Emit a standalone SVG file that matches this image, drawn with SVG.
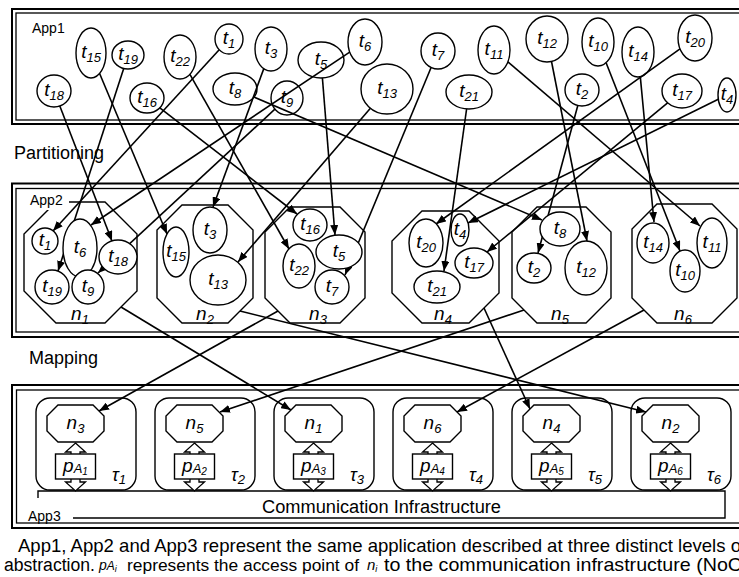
<svg xmlns="http://www.w3.org/2000/svg" width="739" height="577" viewBox="0 0 739 577">
  <defs>
    <style>
      .frame-o{fill:none;stroke:#000;stroke-width:2}
      .frame-i{fill:none;stroke:#000;stroke-width:1.3}
      .task ellipse{fill:#fff;stroke:#000;stroke-width:1.4}
      .oct{fill:none;stroke:#000;stroke-width:1.4}
      .oct-w{fill:#fff;stroke:#000;stroke-width:1.4}
      .tile{fill:#fff;stroke:#000;stroke-width:1.4}
      .conn{fill:none;stroke:#000;stroke-width:1.6;marker-end:url(#ah)}
      .lbl{font-family:"Liberation Sans",Arial,sans-serif;font-style:italic;font-size:19px;text-anchor:middle;fill:#000}
      .sub{font-size:13px}
      .tau{font-family:"Liberation Sans",Arial,sans-serif;font-style:italic;font-size:18px;fill:#000}
      .plain{font-family:"Liberation Sans",Arial,sans-serif;fill:#000}
      .app{font-family:"Liberation Sans",Arial,sans-serif;font-size:14px;fill:#000}
      .stage{font-family:"Liberation Sans",Arial,sans-serif;font-size:18px;fill:#000}
      .cap{font-family:"Liberation Sans",Arial,sans-serif;font-size:18.5px;fill:#000}
    </style>
    <marker id="ah" markerUnits="userSpaceOnUse" markerWidth="10" markerHeight="8" refX="10" refY="4" orient="auto">
      <path d="M0,0 L10,4 L0,8 z" fill="#000"/>
    </marker>
    <!-- block double arrow linking a tile octagon to the network bar -->
    <polygon id="dbl" points="0,443 10,452 4.5,452 4.5,482 10,482 0,491 -10,482 -4.5,482 -4.5,452 -10,452" fill="#fff" stroke="#000" stroke-width="1.3"/>
  </defs>

  <rect width="739" height="577" fill="#fff"/>

  <!-- App1 / App2 / App3 frames -->
  <g id="frames">
    <rect class="frame-o" x="12" y="9" width="740" height="115"/>
    <rect class="frame-i" x="16" y="13" width="735" height="107"/>
    <rect class="frame-o" x="12" y="183.5" width="740" height="153.5"/>
    <rect class="frame-i" x="16" y="188.5" width="735" height="143.5"/>
    <rect class="frame-o" x="12" y="385" width="740" height="143"/>
    <rect class="frame-i" x="16.5" y="390" width="735" height="133"/>
  </g>

  <g id="labels">
    <text class="app" x="32" y="33">App1</text>
    <text class="stage" x="14" y="159">Partitioning</text>
    <text class="stage" x="29" y="364">Mapping</text>
  </g>

  <!-- App1: task graph -->
  <g id="app1">
    <g id="a1-t1" class="task"><ellipse cx="229" cy="39" rx="14" ry="15"/><text class="lbl" x="229" y="44">t<tspan class="sub" dy="4">1</tspan></text></g>
    <g id="a1-t2" class="task"><ellipse cx="582" cy="90" rx="17" ry="16"/><text class="lbl" x="582" y="95">t<tspan class="sub" dy="4">2</tspan></text></g>
    <g id="a1-t3" class="task"><ellipse cx="271" cy="49" rx="16" ry="22"/><text class="lbl" x="271" y="54">t<tspan class="sub" dy="4">3</tspan></text></g>
    <g id="a1-t4" class="task"><ellipse cx="727" cy="95" rx="9" ry="17"/><text class="lbl" x="727" y="100">t<tspan class="sub" dy="4">4</tspan></text></g>
    <g id="a1-t5" class="task"><ellipse cx="321" cy="60" rx="23" ry="18"/><text class="lbl" x="321" y="65">t<tspan class="sub" dy="4">5</tspan></text></g>
    <g id="a1-t6" class="task"><ellipse cx="365" cy="42" rx="17" ry="23"/><text class="lbl" x="365" y="47">t<tspan class="sub" dy="4">6</tspan></text></g>
    <g id="a1-t7" class="task"><ellipse cx="438" cy="51" rx="17" ry="18"/><text class="lbl" x="438" y="56">t<tspan class="sub" dy="4">7</tspan></text></g>
    <g id="a1-t8" class="task"><ellipse cx="235" cy="89" rx="22" ry="16"/><text class="lbl" x="235" y="94">t<tspan class="sub" dy="4">8</tspan></text></g>
    <g id="a1-t9" class="task"><ellipse cx="287" cy="98" rx="16" ry="17"/><text class="lbl" x="287" y="103">t<tspan class="sub" dy="4">9</tspan></text></g>
    <g id="a1-t10" class="task"><ellipse cx="598" cy="42" rx="16" ry="24"/><text class="lbl" x="598" y="47">t<tspan class="sub" dy="4">10</tspan></text></g>
    <g id="a1-t11" class="task"><ellipse cx="494" cy="50" rx="16" ry="24"/><text class="lbl" x="494" y="55">t<tspan class="sub" dy="4">11</tspan></text></g>
    <g id="a1-t12" class="task"><ellipse cx="547" cy="39" rx="21" ry="23"/><text class="lbl" x="547" y="44">t<tspan class="sub" dy="4">12</tspan></text></g>
    <g id="a1-t13" class="task"><ellipse cx="387" cy="89" rx="26" ry="25"/><text class="lbl" x="387" y="94">t<tspan class="sub" dy="4">13</tspan></text></g>
    <g id="a1-t14" class="task"><ellipse cx="638" cy="52" rx="16" ry="25"/><text class="lbl" x="638" y="57">t<tspan class="sub" dy="4">14</tspan></text></g>
    <g id="a1-t15" class="task"><ellipse cx="91" cy="53" rx="15" ry="25"/><text class="lbl" x="91" y="58">t<tspan class="sub" dy="4">15</tspan></text></g>
    <g id="a1-t16" class="task"><ellipse cx="147" cy="98" rx="17" ry="15"/><text class="lbl" x="147" y="103">t<tspan class="sub" dy="4">16</tspan></text></g>
    <g id="a1-t17" class="task"><ellipse cx="682" cy="91" rx="20" ry="17"/><text class="lbl" x="682" y="96">t<tspan class="sub" dy="4">17</tspan></text></g>
    <g id="a1-t18" class="task"><ellipse cx="54" cy="91" rx="17" ry="16"/><text class="lbl" x="54" y="96">t<tspan class="sub" dy="4">18</tspan></text></g>
    <g id="a1-t19" class="task"><ellipse cx="128" cy="55" rx="16" ry="14"/><text class="lbl" x="128" y="60">t<tspan class="sub" dy="4">19</tspan></text></g>
    <g id="a1-t20" class="task"><ellipse cx="695" cy="38" rx="17" ry="23"/><text class="lbl" x="695" y="43">t<tspan class="sub" dy="4">20</tspan></text></g>
    <g id="a1-t21" class="task"><ellipse cx="469" cy="92" rx="23" ry="17"/><text class="lbl" x="469" y="97">t<tspan class="sub" dy="4">21</tspan></text></g>
    <g id="a1-t22" class="task"><ellipse cx="180" cy="57" rx="16" ry="22"/><text class="lbl" x="180" y="62">t<tspan class="sub" dy="4">22</tspan></text></g>
  </g>

  <!-- App2: clusters (octagon outlines) -->
  <g id="clusters">
    <g id="n1"><polygon class="oct" points="56,202 105,202 137,234 137,291 105,323 56,323 24,291 24,234"/><text class="lbl" x="80" y="320">n<tspan class="sub" dy="4">1</tspan></text></g>
    <g id="n2"><polygon class="oct" points="182,205 228,205 253,230 253,298 228,323 182,323 157,298 157,230"/><text class="lbl" x="205" y="320">n<tspan class="sub" dy="4">2</tspan></text></g>
    <g id="n3"><polygon class="oct" points="290,207 340,207 365,232 365,298 340,323 290,323 265,298 265,232"/><text class="lbl" x="318" y="320">n<tspan class="sub" dy="4">3</tspan></text></g>
    <g id="n4"><polygon class="oct" points="422,211 469,211 499,241 499,293 469,323 422,323 392,293 392,241"/><text class="lbl" x="443" y="320">n<tspan class="sub" dy="4">4</tspan></text></g>
    <g id="n5"><polygon class="oct" points="537,207 586,207 611,232 611,298 586,323 537,323 512,298 512,232"/><text class="lbl" x="560" y="320">n<tspan class="sub" dy="4">5</tspan></text></g>
    <g id="n6"><polygon class="oct" points="657,204 712,204 737,229 737,298 712,323 657,323 632,298 632,229"/><text class="lbl" x="683" y="320">n<tspan class="sub" dy="4">6</tspan></text></g>
  </g>

  <!-- partitioning: each task goes to its cluster -->
  <g id="partitioning">
    <path class="conn" d="M219.2,49.7 L53,231"/>
    <path class="conn" d="M577.8,105.5 L538,253"/>
    <path class="conn" d="M263.8,68.6 L213,207"/>
    <path class="conn" d="M718.3,99.3 L468,223"/>
    <path class="conn" d="M322.4,78 L335,235"/>
    <path class="conn" d="M349.7,52.1 L91,225"/>
    <path class="conn" d="M431.1,67.5 L345,275"/>
    <path class="conn" d="M253.9,97.1 L542,220"/>
    <path class="conn" d="M274.9,109.2 L98,273"/>
    <path class="conn" d="M606.1,62.7 L680,251"/>
    <path class="conn" d="M507.9,61.9 L700,226"/>
    <path class="conn" d="M551.5,61.5 L587,241"/>
    <path class="conn" d="M370.4,108.3 L238,262"/>
    <path class="conn" d="M640.3,76.7 L654,222"/>
    <path class="conn" d="M99.6,73.5 L167,234"/>
    <path class="conn" d="M159.8,107.9 L297,214"/>
    <path class="conn" d="M667.6,102.9 L487,252"/>
    <path class="conn" d="M59.8,106 L112,241"/>
    <path class="conn" d="M123.7,68.5 L58,271"/>
    <path class="conn" d="M680,48.8 L436,224"/>
    <path class="conn" d="M466.6,109 L444,271"/>
    <path class="conn" d="M189.9,74.3 L289,249"/>
  </g>

  <!-- App2: tasks inside clusters -->
  <g id="app2">
    <g id="a2-t1" class="task"><ellipse cx="45" cy="241" rx="13" ry="13"/><text class="lbl" x="45" y="246">t<tspan class="sub" dy="4">1</tspan></text></g>
    <g id="a2-t6" class="task"><ellipse cx="80" cy="248" rx="17" ry="29"/><text class="lbl" x="80" y="253">t<tspan class="sub" dy="4">6</tspan></text></g>
    <g id="a2-t18" class="task"><ellipse cx="118" cy="257" rx="19" ry="17"/><text class="lbl" x="118" y="262">t<tspan class="sub" dy="4">18</tspan></text></g>
    <g id="a2-t19" class="task"><ellipse cx="52" cy="287" rx="17" ry="17"/><text class="lbl" x="52" y="292">t<tspan class="sub" dy="4">19</tspan></text></g>
    <g id="a2-t9" class="task"><ellipse cx="88" cy="287" rx="16" ry="17"/><text class="lbl" x="88" y="292">t<tspan class="sub" dy="4">9</tspan></text></g>
    <g id="a2-t15" class="task"><ellipse cx="176" cy="252" rx="13" ry="25"/><text class="lbl" x="176" y="257">t<tspan class="sub" dy="4">15</tspan></text></g>
    <g id="a2-t3" class="task"><ellipse cx="210" cy="230" rx="17" ry="23"/><text class="lbl" x="210" y="235">t<tspan class="sub" dy="4">3</tspan></text></g>
    <g id="a2-t13" class="task"><ellipse cx="218" cy="280" rx="28" ry="25"/><text class="lbl" x="218" y="285">t<tspan class="sub" dy="4">13</tspan></text></g>
    <g id="a2-t16" class="task"><ellipse cx="310" cy="225" rx="17" ry="16"/><text class="lbl" x="310" y="230">t<tspan class="sub" dy="4">16</tspan></text></g>
    <g id="a2-t22" class="task"><ellipse cx="299" cy="266" rx="16" ry="22"/><text class="lbl" x="299" y="271">t<tspan class="sub" dy="4">22</tspan></text></g>
    <g id="a2-t5" class="task"><ellipse cx="339" cy="252" rx="23" ry="17"/><text class="lbl" x="339" y="257">t<tspan class="sub" dy="4">5</tspan></text></g>
    <g id="a2-t7" class="task"><ellipse cx="332" cy="287" rx="17" ry="17"/><text class="lbl" x="332" y="292">t<tspan class="sub" dy="4">7</tspan></text></g>
    <g id="a2-t20" class="task"><ellipse cx="426" cy="243" rx="17" ry="24"/><text class="lbl" x="426" y="248">t<tspan class="sub" dy="4">20</tspan></text></g>
    <g id="a2-t4" class="task"><ellipse cx="460" cy="230" rx="9" ry="16"/><text class="lbl" x="460" y="235">t<tspan class="sub" dy="4">4</tspan></text></g>
    <g id="a2-t17" class="task"><ellipse cx="474" cy="263" rx="19" ry="15"/><text class="lbl" x="474" y="268">t<tspan class="sub" dy="4">17</tspan></text></g>
    <g id="a2-t21" class="task"><ellipse cx="437" cy="287" rx="23" ry="16"/><text class="lbl" x="437" y="292">t<tspan class="sub" dy="4">21</tspan></text></g>
    <g id="a2-t8" class="task"><ellipse cx="560" cy="229" rx="20" ry="17"/><text class="lbl" x="560" y="234">t<tspan class="sub" dy="4">8</tspan></text></g>
    <g id="a2-t2" class="task"><ellipse cx="534" cy="268" rx="17" ry="15"/><text class="lbl" x="534" y="273">t<tspan class="sub" dy="4">2</tspan></text></g>
    <g id="a2-t12" class="task"><ellipse cx="586" cy="268" rx="21" ry="27"/><text class="lbl" x="586" y="273">t<tspan class="sub" dy="4">12</tspan></text></g>
    <g id="a2-t14" class="task"><ellipse cx="653" cy="243" rx="16" ry="20"/><text class="lbl" x="653" y="248">t<tspan class="sub" dy="4">14</tspan></text></g>
    <g id="a2-t10" class="task"><ellipse cx="685" cy="271" rx="15" ry="21"/><text class="lbl" x="685" y="276">t<tspan class="sub" dy="4">10</tspan></text></g>
    <g id="a2-t11" class="task"><ellipse cx="712" cy="243" rx="15" ry="25"/><text class="lbl" x="712" y="248">t<tspan class="sub" dy="4">11</tspan></text></g>
  </g>

  <g id="app2-label">
    <rect x="27" y="192" width="42" height="18" fill="#fff"/>
    <text class="app" x="30" y="205">App2</text>
  </g>

  <!-- App3: tiles on the NoC -->
  <g id="noc">
    <path d="M38,498 L38,491 L725,491 L725,518 L73,518" fill="#fff" stroke="#000" stroke-width="1.4"/>
    <text class="plain" x="381.5" y="513" font-size="18" text-anchor="middle" textLength="239" lengthAdjust="spacingAndGlyphs">Communication Infrastructure</text>
    <text class="app" x="28" y="521">App3</text>
  </g>

  <g id="tau1">
    <rect class="tile" x="36" y="398" width="100" height="92" rx="14"/>
    <use href="#dbl" x="75.5"/>
    <polygon class="oct-w" points="58,405 93,405 104,416 104,431 93,442 58,442 47,431 47,416"/>
    <text class="lbl" x="75.5" y="429">n<tspan class="sub" dy="4">3</tspan></text>
    <rect class="tile" x="55.5" y="454" width="40" height="25"/>
    <text class="lbl" x="75.5" y="472">p<tspan font-size="13" dy="1">A</tspan><tspan font-size="10" dy="2">1</tspan></text>
    <text class="tau" x="112" y="481">τ<tspan class="sub" dy="3">1</tspan></text>
  </g>
  <g id="tau2">
    <rect class="tile" x="155" y="398" width="100" height="92" rx="14"/>
    <use href="#dbl" x="194.5"/>
    <polygon class="oct-w" points="177,405 212,405 223,416 223,431 212,442 177,442 166,431 166,416"/>
    <text class="lbl" x="194.5" y="429">n<tspan class="sub" dy="4">5</tspan></text>
    <rect class="tile" x="174.5" y="454" width="40" height="25"/>
    <text class="lbl" x="194.5" y="472">p<tspan font-size="13" dy="1">A</tspan><tspan font-size="10" dy="2">2</tspan></text>
    <text class="tau" x="231" y="481">τ<tspan class="sub" dy="3">2</tspan></text>
  </g>
  <g id="tau3">
    <rect class="tile" x="274" y="398" width="100" height="92" rx="14"/>
    <use href="#dbl" x="313.5"/>
    <polygon class="oct-w" points="296,405 331,405 342,416 342,431 331,442 296,442 285,431 285,416"/>
    <text class="lbl" x="313.5" y="429">n<tspan class="sub" dy="4">1</tspan></text>
    <rect class="tile" x="293.5" y="454" width="40" height="25"/>
    <text class="lbl" x="313.5" y="472">p<tspan font-size="13" dy="1">A</tspan><tspan font-size="10" dy="2">3</tspan></text>
    <text class="tau" x="350" y="481">τ<tspan class="sub" dy="3">3</tspan></text>
  </g>
  <g id="tau4">
    <rect class="tile" x="393" y="398" width="100" height="92" rx="14"/>
    <use href="#dbl" x="432.5"/>
    <polygon class="oct-w" points="415,405 450,405 461,416 461,431 450,442 415,442 404,431 404,416"/>
    <text class="lbl" x="432.5" y="429">n<tspan class="sub" dy="4">6</tspan></text>
    <rect class="tile" x="412.5" y="454" width="40" height="25"/>
    <text class="lbl" x="432.5" y="472">p<tspan font-size="13" dy="1">A</tspan><tspan font-size="10" dy="2">4</tspan></text>
    <text class="tau" x="469" y="481">τ<tspan class="sub" dy="3">4</tspan></text>
  </g>
  <g id="tau5">
    <rect class="tile" x="512" y="398" width="100" height="92" rx="14"/>
    <use href="#dbl" x="551.5"/>
    <polygon class="oct-w" points="534,405 569,405 580,416 580,431 569,442 534,442 523,431 523,416"/>
    <text class="lbl" x="551.5" y="429">n<tspan class="sub" dy="4">4</tspan></text>
    <rect class="tile" x="531.5" y="454" width="40" height="25"/>
    <text class="lbl" x="551.5" y="472">p<tspan font-size="13" dy="1">A</tspan><tspan font-size="10" dy="2">5</tspan></text>
    <text class="tau" x="588" y="481">τ<tspan class="sub" dy="3">5</tspan></text>
  </g>
  <g id="tau6">
    <rect class="tile" x="631" y="398" width="100" height="92" rx="14"/>
    <use href="#dbl" x="670.5"/>
    <polygon class="oct-w" points="653,405 688,405 699,416 699,431 688,442 653,442 642,431 642,416"/>
    <text class="lbl" x="670.5" y="429">n<tspan class="sub" dy="4">2</tspan></text>
    <rect class="tile" x="650.5" y="454" width="40" height="25"/>
    <text class="lbl" x="670.5" y="472">p<tspan font-size="13" dy="1">A</tspan><tspan font-size="10" dy="2">6</tspan></text>
    <text class="tau" x="707" y="481">τ<tspan class="sub" dy="3">6</tspan></text>
  </g>

  <!-- mapping: each cluster goes to a tile -->
  <g id="mapping">
    <path class="conn" d="M278,311 L99,411"/>
    <path class="conn" d="M524,310 L220,412"/>
    <path class="conn" d="M121,307 L291,410"/>
    <path class="conn" d="M644,310 L457,412"/>
    <path class="conn" d="M484,308 L530,409"/>
    <path class="conn" d="M240,311 L646,412"/>
  </g>

  <!-- caption -->
  <g id="caption">
    <text class="cap" x="18" y="552" textLength="723" lengthAdjust="spacingAndGlyphs">App1, App2 and App3 represent the same application described at three distinct levels o</text>
    <text class="cap" x="4" y="571" style="font-size:17.6px">abstraction.</text>
    <text class="cap" x="99" y="570" style="font-style:italic;font-size:14px">p<tspan style="font-size:12px">A</tspan><tspan style="font-size:9px" dy="2">i</tspan></text>
    <text class="cap" x="127" y="571" style="font-size:17.4px">represents the access point of</text>
    <text class="cap" x="367" y="570" style="font-style:italic;font-size:15px">n<tspan style="font-size:9px" dy="2">i</tspan></text>
    <text class="cap" x="384" y="571" textLength="358" lengthAdjust="spacingAndGlyphs">to the communication infrastructure (NoC</text>
  </g>
</svg>
